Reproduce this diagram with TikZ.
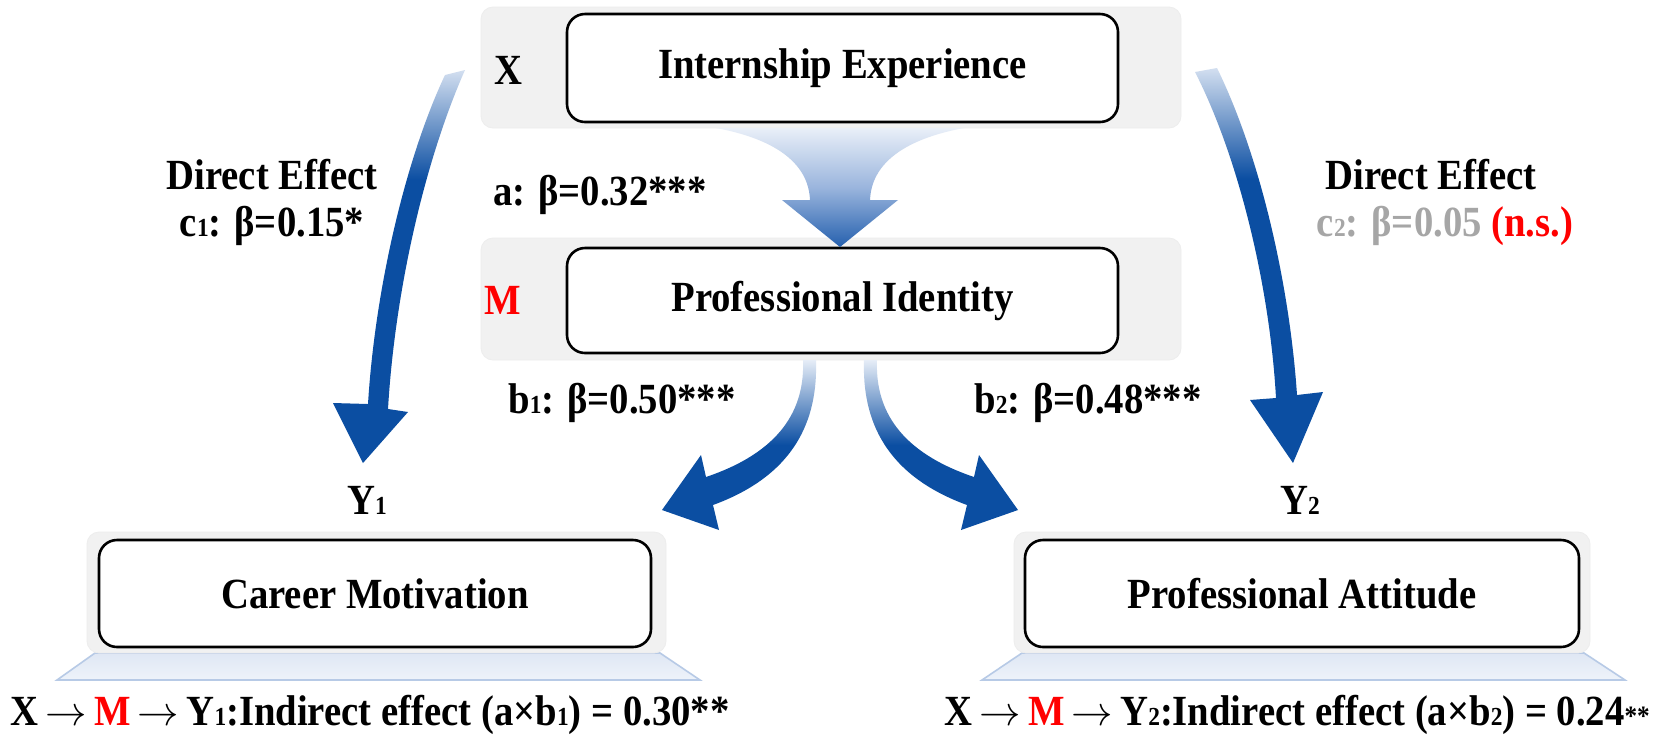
\documentclass[tikz,border=0pt]{standalone}
\usepackage{fontspec}
\setmainfont{Liberation Serif}[FakeStretch=0.9]
\definecolor{dblue}{HTML}{0B4EA2}
\definecolor{lblue}{HTML}{D3DFF0}
\definecolor{blight}{HTML}{E6EDF7}
\definecolor{atop}{HTML}{E9EFF8}
\definecolor{amid}{HTML}{9AB5DD}
\definecolor{abot}{HTML}{2560AE}
\definecolor{panelgray}{HTML}{F1F1F1}
\definecolor{platfill}{HTML}{DFE7F4}
\definecolor{platfill2}{HTML}{EEF3FA}
\definecolor{platline}{HTML}{B7CAE6}
\definecolor{nsgray}{HTML}{A6A6A6}
\definecolor{nsred}{HTML}{FF0000}
\pgfdeclareverticalshading{cfade}{100bp}{color(0bp)=(dblue); color(61bp)=(dblue); color(75bp)=(lblue); color(100bp)=(lblue)}
\pgfdeclareverticalshading{bfade}{100bp}{color(0bp)=(dblue); color(50bp)=(dblue); color(75bp)=(blight); color(100bp)=(blight)}
\pgfdeclareverticalshading{afade}{100bp}{color(0bp)=(abot); color(25bp)=(abot); color(50bp)=(amid); color(75bp)=(atop); color(100bp)=(atop)}
\newcommand{\fs}{\fontsize{21.5}{23}\selectfont\bfseries}
\newcommand{\sdig}[1]{{\fontsize{13}{13}\selectfont #1}}
\newcommand{\rarr}{\,$\rightarrow$\,}
\tikzset{
  panel/.style={fill=panelgray, draw=black!7, rounded corners=6pt, inner sep=0pt},
  wbox/.style={draw=black, line width=1.3pt, fill=white, rounded corners=9pt, font=\fs, inner sep=0pt},
  lbl/.style={font=\fs, inner sep=0pt},
  plat/.style={top color=platfill, bottom color=platfill2, draw=platline, line width=0.8pt},
}
\begin{document}
\begin{tikzpicture}[x=0.5pt,y=-0.5pt]
\useasboundingbox (0,0) rectangle (1666,746);
\fill[white] (0,0) rectangle (1666,746);

% platforms
\path[plat] (95,653) -- (660,653) -- (700,680) -- (57,680) -- cycle;
\path[plat] (1022,653) -- (1584,653) -- (1625,680) -- (982,680) -- cycle;

% panels
\node[panel, minimum width=350pt, minimum height=60.5pt] (ptop) at (831,67.5) {};
\node[panel, minimum width=350pt, minimum height=61pt] (pmid) at (831,299) {};
\node[panel, minimum width=289.5pt, minimum height=60.5pt] (pleft) at (376.5,592.5) {};
\node[panel, minimum width=288pt, minimum height=60.5pt] (pright) at (1302,592.5) {};

% boxes
\node[wbox, minimum width=275.5pt, minimum height=54pt] (iexp) at (842.5,68) {Internship Experience};
\node[wbox, minimum width=275.5pt, minimum height=52.5pt] (pid) at (842.5,300.5) {Professional Identity};
\node[wbox, minimum width=276pt, minimum height=53.5pt] (cm) at (375,593.5) {Career Motivation};
\node[wbox, minimum width=277pt, minimum height=53.5pt] (pa) at (1302,593.5) {Professional Attitude};

% a arrow
\shade[shading=afade] (716,128) .. controls (748,134) and (808,150) .. (810,200) -- (782,200) -- (840,247) -- (898,200) -- (870,200) .. controls (872,150) and (932,134) .. (964,128) -- cycle;

% c1 arrow
\shade[shading=cfade] (445,75) .. controls (405,160) and (375,290) .. (368,404) -- (333,403) -- (363,463) -- (408,412) -- (388,409) .. controls (395,290) and (425,160) .. (465,70) -- cycle;
% c2 arrow
\shade[shading=cfade] (1195,72) .. controls (1240,160) and (1270,290) .. (1276,398) -- (1250,400) -- (1293,463) -- (1323,392) -- (1297,395) .. controls (1290,290) and (1262,160) .. (1217,68) -- cycle;

% b1 arrow
\shade[shading=bfade] (803,360) .. controls (805,410) and (780,452) .. (706,477) -- (701,455) -- (662,510) -- (719,530) -- (713,505) .. controls (795,475) and (818,420) .. (816,360) -- cycle;
% b2 arrow
\shade[shading=bfade] (877,360) .. controls (875,410) and (900,452) .. (974,477) -- (979,455) -- (1018,510) -- (961,530) -- (967,505) .. controls (885,475) and (862,420) .. (864,360) -- cycle;

% labels
\node[lbl] (xl) at (508,70) {X};
\node[lbl, text=nsred] (ml) at (503,300) {M};
\node[lbl] (al) at (600,195) {a: β=0.32***};
\node[lbl] (de1) at (272,175) {Direct Effect};
\node[lbl] (c1) at (272,226) {c\sdig{1}: β=0.15*};
\node[lbl] (de2) at (1431,175) {Direct Effect};
\node[lbl] (c2) at (1445,226) {\textcolor{nsgray}{c\sdig{2}: β=0.05} \textcolor{nsred}{(n.s.)}};
\node[lbl] (b1) at (622,403) {b\sdig{1}: β=0.50***};
\node[lbl] (b2) at (1088,403) {b\sdig{2}: β=0.48***};
\node[lbl] (y1) at (367,500) {Y\sdig{1}};
\node[lbl] (y2) at (1300,500) {Y\sdig{2}};
\node[lbl] (ind1) at (370,715) {X\rarr\textcolor{nsred}{M}\rarr Y\sdig{1}:Indirect effect (a×b\sdig{1}) = 0.30**};
\node[lbl] (ind2) at (1297,715) {X\rarr\textcolor{nsred}{M}\rarr Y\sdig{2}:Indirect effect (a×b\sdig{2}) = 0.24{\fontsize{14}{14}\selectfont **}};
\end{tikzpicture}
\end{document}
